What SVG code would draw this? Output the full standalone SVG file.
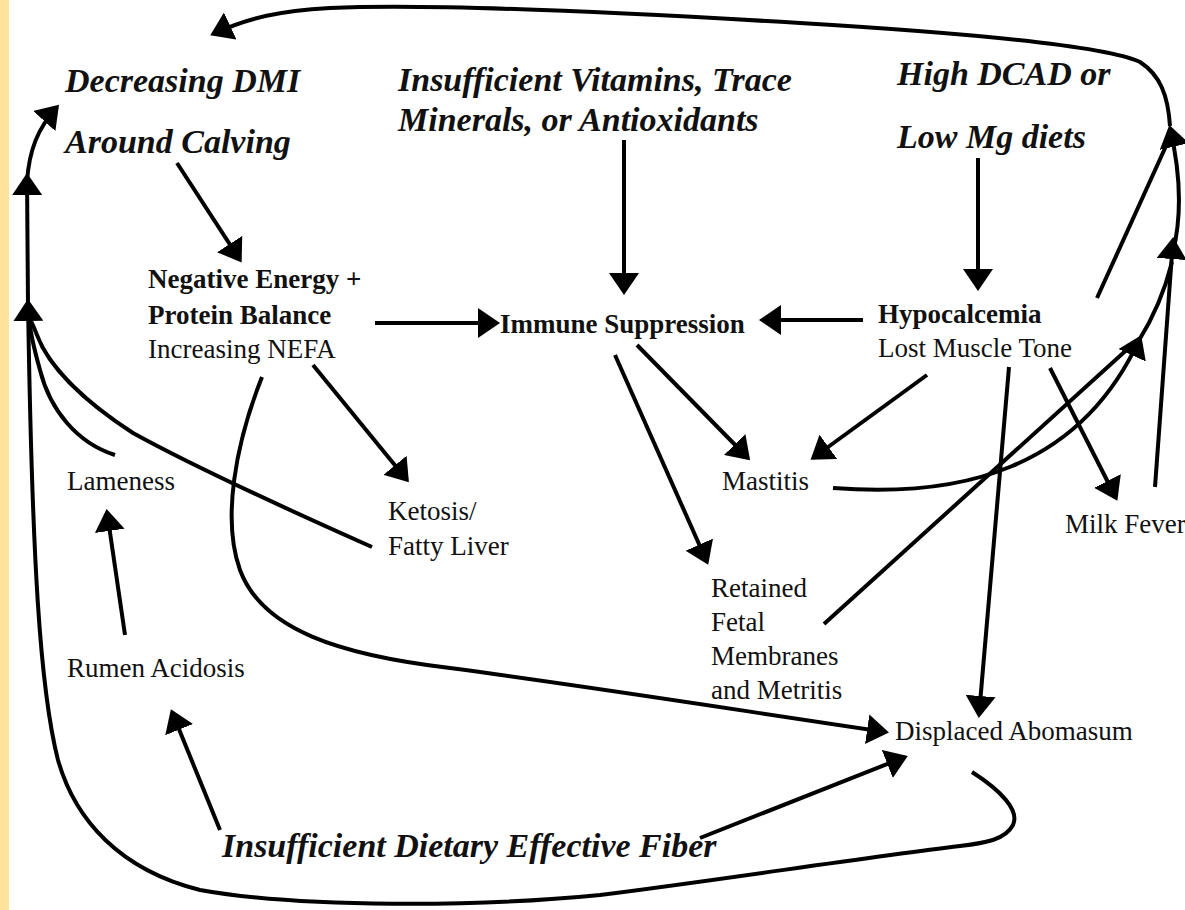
<svg xmlns="http://www.w3.org/2000/svg" width="1185" height="910" viewBox="0 0 1185 910">
<style>
text{font-family:"Liberation Serif","Times New Roman",serif;fill:#111;font-size:27px}
.bi{font-weight:bold;font-style:italic;font-size:34px}
.b{font-weight:bold}
.c{fill:none;stroke:#000;stroke-width:4}
.a{marker-end:url(#ah)}
</style>
<defs>
<marker id="ah" markerUnits="userSpaceOnUse" viewBox="0 0 22 30" markerWidth="22" markerHeight="30" refX="19" refY="15" orient="auto">
<path d="M0,0 L22,15 L0,30 z" fill="#000"/>
</marker>
</defs>
<rect width="1185" height="910" fill="#fff"/>
<rect x="0" y="0" width="9" height="910" fill="#FFE39B"/>

<g id="connectors">
<path class="c a" d="M1170,126 C1168,95 1160,75 1140,62 C1110,48 1000,35 800,23 C600,11 420,4 330,8 C280,11 250,17 213,34"/>
<path class="c a" d="M1173,252 C1182,215 1181,175 1170,128"/>
<path class="c" d="M1097,298 L1166,146"/>
<path class="c a" d="M1155,487 L1173,240"/>
<path class="c a" d="M833,488 C960,498 1080,470 1140,338"/>
<path class="c" d="M1138,342 C1155,315 1165,290 1172,262"/>
<path class="c" d="M824,624 L1132,345"/>
<path class="c a" d="M27,182 C29,150 38,128 57,107"/>
<path class="c a" d="M28,305 L27,176"/>
<path class="c" d="M115,455 C77,443 50,410 40,370 C33,345 30,330 29,318"/>
<path class="c" d="M372,547 C300,515 200,470 133,433 C90,405 50,370 37,335 C33,325 31,320 29,318"/>
<path class="c a" d="M972,772 C1000,790 1020,810 1013,825 C1005,840 985,843 960,846 C860,858 720,880 600,895 C480,907 300,908 200,890 C120,870 75,820 58,760 C40,690 32,560 28,302"/>
<path class="c a" d="M125,635 L107,512"/>
<path class="c a" d="M220,830 L172,712"/>
<path class="c a" d="M700,838 L905,757"/>
<path class="c a" d="M262,377 C235,445 222,520 240,570 C262,630 340,655 450,668 C600,688 750,712 886,732"/>
<path class="c a" d="M313,365 L407,480"/>
<path class="c a" d="M177,163 L240,260"/>
<path class="c a" d="M375,323 L497,323"/>
<path class="c a" d="M624,140 L624,292"/>
<path class="c a" d="M863,320 L762,320"/>
<path class="c a" d="M978,158 L978,288"/>
<path class="c a" d="M637,345 L748,458"/>
<path class="c a" d="M615,355 L707,562"/>
<path class="c a" d="M927,375 L813,458"/>
<path class="c a" d="M1009,367 L979,715"/>
<path class="c a" d="M1050,368 L1116,498"/>
</g>

<g id="dmi"><text class="bi" x="65" y="92">Decreasing DMI</text><text class="bi" x="65" y="153">Around Calving</text></g>
<g id="vitamins"><text class="bi" x="398" y="91">Insufficient Vitamins, Trace</text><text class="bi" x="398" y="131">Minerals, or Antioxidants</text></g>
<g id="dcad"><text class="bi" x="897" y="85">High DCAD or</text><text class="bi" x="897" y="148">Low Mg diets</text></g>
<g id="neb"><text class="b" x="148" y="288">Negative Energy +</text><text class="b" x="148" y="324">Protein Balance</text><text x="148" y="358">Increasing NEFA</text></g>
<g id="immune"><text class="b" x="500" y="333">Immune Suppression</text></g>
<g id="hypocalcemia"><text class="b" x="878" y="323">Hypocalcemia</text><text x="878" y="357">Lost Muscle Tone</text></g>
<g id="lameness"><text x="67" y="490">Lameness</text></g>
<g id="ketosis"><text x="388" y="520">Ketosis/</text><text x="388" y="555">Fatty Liver</text></g>
<g id="mastitis"><text x="722" y="490">Mastitis</text></g>
<g id="milkfever"><text x="1065" y="533">Milk Fever</text></g>
<g id="retained"><text x="711" y="597">Retained</text><text x="711" y="631">Fetal</text><text x="711" y="665">Membranes</text><text x="711" y="699">and Metritis</text></g>
<g id="da"><text x="895" y="740">Displaced Abomasum</text></g>
<g id="rumen"><text x="67" y="677">Rumen Acidosis</text></g>
<g id="fiber"><text class="bi" x="222" y="857">Insufficient Dietary Effective Fiber</text></g>
</svg>
